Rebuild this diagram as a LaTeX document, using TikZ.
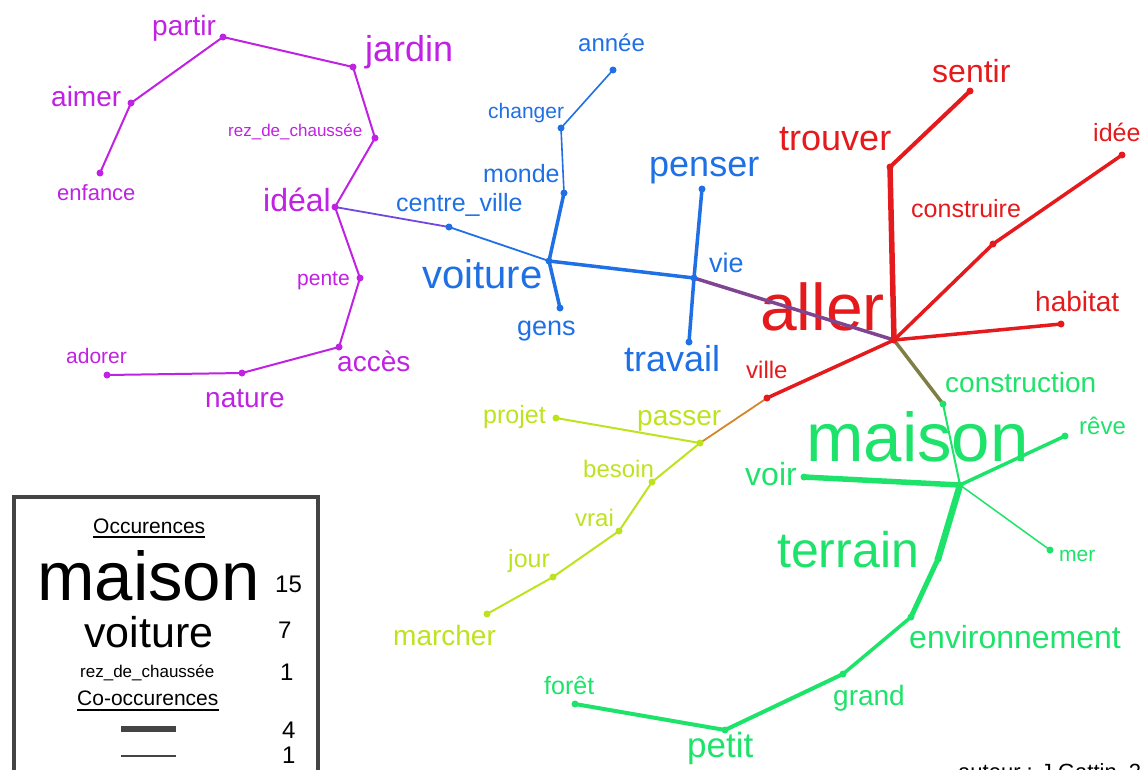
\documentclass[tikz,border=0pt]{standalone}
\usepackage{fontspec}
\setmainfont{Liberation Sans}
\usetikzlibrary{calc}
\definecolor{purp}{HTML}{C021E2}
\definecolor{blu}{HTML}{1F6FE5}
\definecolor{rd}{HTML}{E41A1C}
\definecolor{ylw}{HTML}{BDE31E}
\definecolor{grn}{HTML}{1EE36A}
\definecolor{purpblu}{HTML}{7048E0}
\definecolor{blurd}{HTML}{7F4591}
\definecolor{rdgrn}{HTML}{7F7F45}
\definecolor{ylwrd}{HTML}{D4872A}
\definecolor{legend}{HTML}{444444}
\tikzset{
  word/.style={inner sep=0pt,anchor=base west,font=\fontsize{#1}{#1}\selectfont},
}

\begin{document}
\begin{tikzpicture}[x=1pt,y=-1pt,line cap=round,line join=round]
  \useasboundingbox (0,0) rectangle (1140,769);
  \clip (0,0) rectangle (1140,769);

  % Word positions (points of the graph)
  \foreach \n/\x/\y in {partir/223/37,jardin/353/67,rez/375/138,ideal/335/207,
      pente/360/278,acces/339/347,nature/242/373,adorer/107/375,aimer/131/103,enfance/100/173,
      annee/613/70,changer/561/128,monde/564/193,centre/449/227,voiture/549/261,gens/560/308,
      penser/702/189,vie/694/278,travail/689/342,
      sentir/970/91,trouver/890/167,idee/1122/155,construire/993/244,habitat/1061/324,
      aller/894/340,ville/767/398,
      projet/556/418,passer/700/443,besoin/652/482,vrai/619/531,jour/553/577,marcher/487/614,
      construction/943/404,maison/960/485,reve/1065/436,voir/804/477,mer/1050/550,
      terrain/938/559,environnement/911/617,grand/843/674,petit/725/730,foret/575/704}
    \coordinate (\n) at (\x,\y);

  % Purple cluster
  \begin{scope}[color=purp]
    \foreach \n/\x/\y/\s/\t in {partir/152/35/28/partir,jardin/365/61/36/jardin,
        aimer/51/106/28/aimer,rez/228/136/17/rez\_de\_chaussée,enfance/57/200/22/enfance,
        ideal/263/211/32/idéal,pente/297/285/21/pente,adorer/66/363/21/adorer,
        nature/205/407/28/nature,acces/337/371/28/accès}
      \node[word=\s] (t-\n) at (\x,\y) {\t};
  \end{scope}
  % Blue cluster
  \begin{scope}[color=blu]
    \foreach \n/\x/\y/\s/\t in {annee/578/51/24/année,changer/488/118/21/changer,
        monde/483/182/25/monde,centre/396/211/25/centre\_ville,voiture/422/288/40/voiture,
        gens/517/335/27/gens,penser/649/176/36/penser,vie/709/272/27/vie,
        travail/624/371/36/travail}
      \node[word=\s] (t-\n) at (\x,\y) {\t};
  \end{scope}
  % Red cluster
  \begin{scope}[color=rd]
    \foreach \n/\x/\y/\s/\t in {sentir/932/82/32/sentir,trouver/779/150/36/trouver,
        idee/1093/141/25/idée,construire/911/217/25/construire,habitat/1035/311/28/habitat,
        aller/760/330/66/aller,ville/746/378/24/ville}
      \node[word=\s] (t-\n) at (\x,\y) {\t};
  \end{scope}
  % Yellow-green cluster
  \begin{scope}[color=ylw]
    \foreach \n/\x/\y/\s/\t in {projet/483/423/25/projet,passer/637/425/28/passer,
        besoin/583/477/24/besoin,vrai/575/526/24/vrai,jour/508/567/25/jour,
        marcher/393/645/28/marcher}
      \node[word=\s] (t-\n) at (\x,\y) {\t};
  \end{scope}
  % Green cluster
  \begin{scope}[color=grn]
    \foreach \n/\x/\y/\s/\t in {construction/945/392/28/construction,maison/806/461/69/maison,
        reve/1079/434/24/rêve,voir/745/485/32/voir,mer/1059/561/21/mer,
        terrain/777/567/50/terrain,environnement/909/648/32/environnement,
        grand/833/705/28/grand,petit/687/757/35/petit,foret/544/694/25/forêt}
      \node[word=\s] (t-\n) at (\x,\y) {\t};
  \end{scope}

  % Co-occurence links
  \foreach \a/\b/\w in {enfance/aimer/2,aimer/partir/2,partir/jardin/2,jardin/rez/2,
      rez/ideal/2,ideal/pente/2,pente/acces/2,acces/nature/2,nature/adorer/2}
    \draw[purp,line width=\w pt] (\a) -- (\b);
  \draw[purpblu,line width=1.8pt] (ideal) -- (centre);
  \foreach \a/\b/\w in {annee/changer/1.6,changer/monde/1.6,monde/voiture/3.5,
      centre/voiture/1.8,voiture/gens/3.5,voiture/vie/3.5,penser/vie/3.5,vie/travail/3.5}
    \draw[blu,line width=\w pt] (\a) -- (\b);
  \draw[blurd,line width=3.5pt] (vie) -- (aller);
  \foreach \a/\b/\w in {sentir/trouver/4,trouver/aller/5.5,idee/construire/3.5,
      construire/aller/3.5,habitat/aller/3.5,aller/ville/3.5}
    \draw[rd,line width=\w pt] (\a) -- (\b);
  \draw[rdgrn,line width=3.5pt] (aller) -- (construction);
  \draw[ylwrd,line width=1.8pt] (passer) -- (ville);
  \foreach \a/\b in {projet/passer,passer/besoin,besoin/vrai,vrai/jour,jour/marcher}
    \draw[ylw,line width=2pt] (\a) -- (\b);
  \foreach \a/\b/\w in {construction/maison/2,maison/reve/3.5,maison/voir/5.5,
      maison/mer/1.5,maison/terrain/6.5,terrain/environnement/5,environnement/grand/3.5,
      grand/petit/4,petit/foret/4}
    \draw[grn,line width=\w pt] (\a) -- (\b);

  % Points
  \foreach \n in {partir,jardin,rez,ideal,pente,acces,nature,adorer,aimer,enfance}
    \fill[purp] (\n) circle (3.5pt);
  \foreach \n in {annee,changer,monde,centre,voiture,gens,penser,vie,travail}
    \fill[blu] (\n) circle (3.5pt);
  \foreach \n in {sentir,trouver,idee,construire,habitat,aller,ville}
    \fill[rd] (\n) circle (3.5pt);
  \foreach \n in {projet,passer,besoin,vrai,jour,marcher}
    \fill[ylw] (\n) circle (3.5pt);
  \foreach \n in {construction,maison,reve,voir,mer,terrain,environnement,grand,petit,foret}
    \fill[grn] (\n) circle (3.5pt);

  % Legend
  \draw[legend,line width=4pt,line join=miter] (14,497) rectangle (318,800);
  \foreach \n/\x/\y/\s/\t in {occ/93/533/21/Occurences,lmaison/37/600/69/maison,
      n15/275/592/24/15,lvoiture/84/647/43/voiture,n7/278/638/24/7,
      lrez/80/677/17/rez\_de\_chaussée,n1/280/680/24/1,cooc/77/705/21/Co-occurences,
      n4/282/738/24/4,n1b/282/763/24/1}
    \node[word=\s] (t-\n) at (\x,\y) {\t};
  \draw[line width=1.5pt,line cap=butt] ([yshift=-4pt]t-occ.base west) -- ([yshift=-4pt]t-occ.base east);
  \draw[line width=1.5pt,line cap=butt] ([yshift=-5pt]t-cooc.base west) -- ([yshift=-5pt]t-cooc.base east);
  \coordinate (k4a) at (121,729);
  \coordinate (k4b) at (176,729);
  \coordinate (k1a) at (121,756);
  \coordinate (k1b) at (176,756);
  \draw[legend,line width=6pt,line cap=butt] (k4a) -- (k4b);
  \draw[legend,line width=1.5pt,line cap=butt] (k1a) -- (k1b);

  % Author
  \node[word=22] (auteur) at (958,779) {auteur : J.Gattin, 20};
\end{tikzpicture}
\end{document}
